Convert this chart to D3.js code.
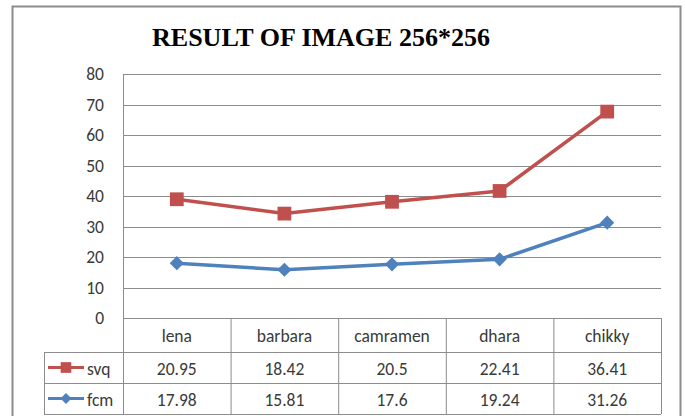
<html>
<head>
    <meta charset="utf-8" />
    <title>Result of image 256*256</title>
    <script src="https://d3js.org/d3.v7.min.js"></script>
    <style>
        body { margin: 0; background: #fff; }
        .lbl { font-family: Carlito, Calibri, Lato, "Open Sans", sans-serif; font-size: 17.5px; fill: #3a3a3a; }
    </style>
</head>
<body>
    <svg id="chart" width="685" height="416"></svg>
    <script>
        const categories = ["lena", "barbara", "camramen", "dhara", "chikky"]
        const svq = [20.95, 18.42, 20.5, 22.41, 36.41]
        const fcm = [17.98, 15.81, 17.6, 19.24, 31.26]
        const yTicks = [0, 10, 20, 30, 40, 50, 60, 70, 80]

        const svg = d3.select("svg#chart")
        const plot = { left: 123, right: 661, top: 74, bottom: 318 }
        const rowH = 31
        const legendLeft = 44

        // outer frame
        svg.append("rect").attr("x", 12.5).attr("y", 6.5).attr("width", 668).attr("height", 420)
            .attr("fill", "#fff").attr("stroke", "#8c8c8c").attr("stroke-width", 2)

        svg.append("text")
            .attr("x", 321).attr("y", 46)
            .attr("text-anchor", "middle")
            .attr("textLength", 338).attr("lengthAdjust", "spacingAndGlyphs")
            .style("font-family", "'Times New Roman', 'Liberation Serif', serif")
            .style("font-weight", "bold").style("font-size", "26px")
            .text("RESULT OF IMAGE 256*256")

        const x = d3.scaleBand().domain(categories).range([plot.left, plot.right])
        const y = d3.scaleLinear().domain([0, 80]).range([plot.bottom, plot.top])

        // gridlines
        svg.append("g").selectAll("line").data(yTicks).join("line")
            .attr("x1", plot.left).attr("x2", plot.right)
            .attr("y1", d => Math.round(y(d)) + 0.5).attr("y2", d => Math.round(y(d)) + 0.5)
            .attr("stroke", "#8c8c8c").attr("stroke-width", 1)

        svg.append("g").selectAll("text").data(yTicks).join("text").attr("class", "lbl")
            .attr("x", 104).attr("y", d => y(d))
            .attr("text-anchor", "end").attr("dominant-baseline", "central")
            .text(d => d)

        // data table
        const table = svg.append("g").attr("stroke", "#8c8c8c").attr("stroke-width", 1)
        const rows = [plot.bottom, plot.bottom + rowH + 3, plot.bottom + 2 * rowH + 3, plot.bottom + 3 * rowH + 3]
        table.append("line").attr("x1", plot.left + 0.5).attr("x2", plot.left + 0.5)
            .attr("y1", plot.top).attr("y2", rows[3])
        categories.forEach(c => {
            table.append("line").attr("x1", x(c) + x.bandwidth() + 0.5).attr("x2", x(c) + x.bandwidth() + 0.5)
                .attr("y1", rows[0]).attr("y2", rows[3])
        })
        table.append("line").attr("x1", legendLeft + 0.5).attr("x2", legendLeft + 0.5)
            .attr("y1", rows[1]).attr("y2", rows[3])
        rows.slice(1).forEach(r => {
            table.append("line").attr("x1", legendLeft).attr("x2", plot.right)
                .attr("y1", r + 0.5).attr("y2", r + 0.5)
        })

        svg.append("g").selectAll("text").data(categories).join("text").attr("class", "lbl")
            .attr("x", d => x(d) + x.bandwidth() / 2).attr("y", (rows[0] + rows[1]) / 2 + 1)
            .attr("text-anchor", "middle").attr("dominant-baseline", "central")
            .text(d => d)

        const series = [
            { key: "svq", values: svq, color: "#C0504D", rot: 0, size: 190 },
            { key: "fcm", values: fcm, color: "#4F81BD", rot: 45, size: 100 }
        ]

        series.forEach((s, i) => {
            const cy = (rows[i + 1] + rows[i + 2]) / 2 + 1
            svg.append("g").selectAll("text").data(s.values).join("text").attr("class", "lbl")
                .attr("x", (d, j) => x(categories[j]) + x.bandwidth() / 2).attr("y", cy)
                .attr("text-anchor", "middle").attr("dominant-baseline", "central")
                .text(d => d)
            svg.append("line").attr("x1", 48).attr("x2", 84).attr("y1", cy - 1).attr("y2", cy - 1)
                .attr("stroke", s.color).attr("stroke-width", 3)
            svg.append("path").attr("d", d3.symbol().type(d3.symbolSquare).size(s.size * 0.6)())
                .attr("transform", `translate(66,${cy - 1}) rotate(${s.rot})`).attr("fill", s.color)
            svg.append("text").attr("class", "lbl").attr("x", 87).attr("y", cy)
                .attr("dominant-baseline", "central").text(s.key)
        })

        // stacked lines: fcm at bottom, svq on top
        const stackData = categories.map((c, i) => ({ cat: c, fcm: fcm[i], svq: svq[i] }))
        const stacked = d3.stack().keys(["fcm", "svq"])(stackData)

        const line = d3.line()
            .x(d => x(d.data.cat) + x.bandwidth() / 2)
            .y(d => y(d[1]))

        const order = ["svq", "fcm"]
        order.forEach(k => {
            const s = series.find(e => e.key === k)
            const layer = stacked.find(l => l.key === k)
            svg.append("path").datum(layer).attr("d", line)
                .attr("fill", "none").attr("stroke", s.color).attr("stroke-width", 3.5)
                .attr("stroke-linejoin", "round")
            svg.append("g").selectAll("path").data(layer).join("path")
                .attr("d", d3.symbol().type(d3.symbolSquare).size(s.size)())
                .attr("transform", d => `translate(${x(d.data.cat) + x.bandwidth() / 2},${y(d[1])}) rotate(${s.rot})`)
                .attr("fill", s.color)
        })
    </script>
</body>
</html>
